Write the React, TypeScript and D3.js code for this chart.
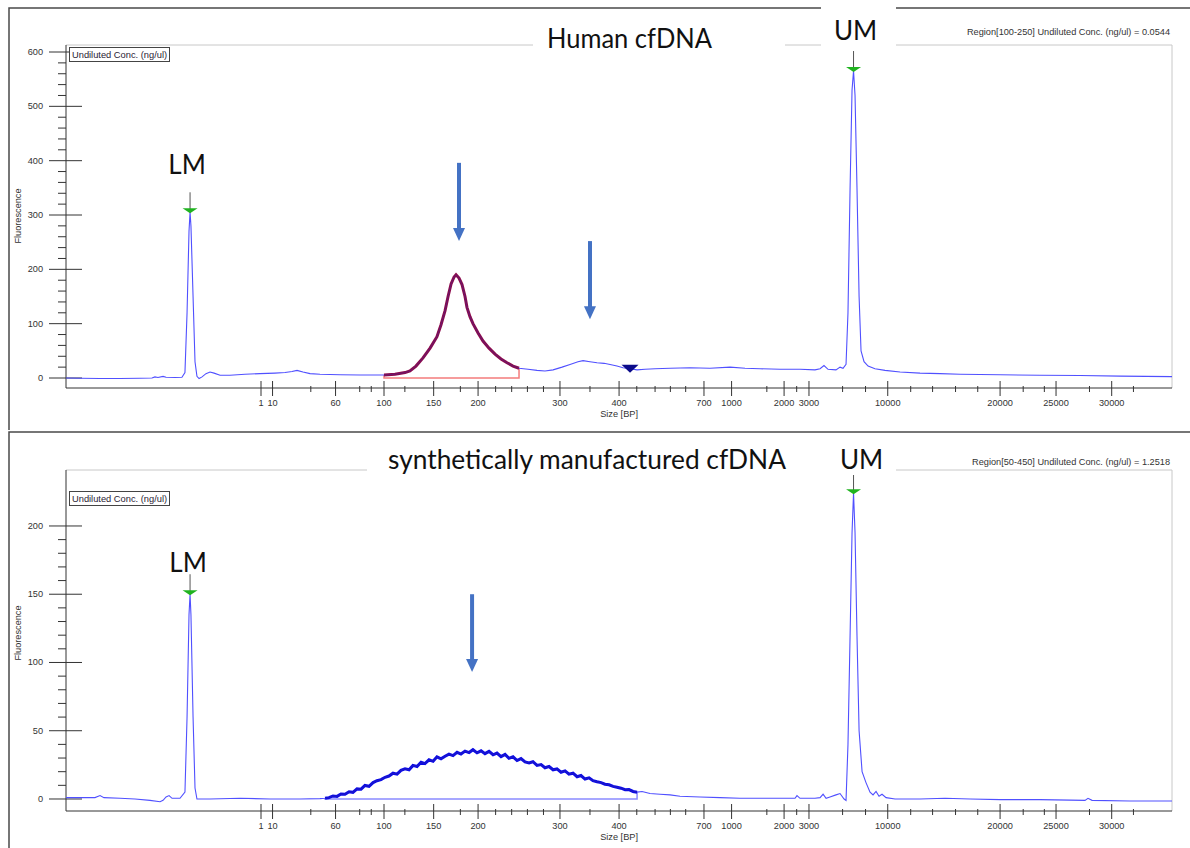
import { useRef, useEffect } from "react";
import * as d3 from "d3";

const W = 1190;
const H = 848;

// size axis: ladder labels and the migration time (s) where each sits
const sizeLabels = ["1", "10", "60", "100", "150", "200", "300", "400", "700", "1000", "2000", "3000", "10000", "20000", "25000", "30000"];
const sizeTimes = [53.0, 53.77, 57.97, 61.2, 64.51, 67.47, 72.93, 76.87, 82.53, 84.37, 87.87, 89.53, 94.78, 102.27, 106.0, 109.71];
const minorTimes = [56.32, 59.58, 60.35, 62.59, 66.29, 68.64, 69.71, 70.76, 71.83, 74.93, 78.05, 79.27, 80.29, 81.31, 86.72, 88.71, 91.77, 93.3, 96.31, 97.77, 99.3, 100.78, 103.81, 105.22, 108.23, 111.16];
const timeDomain = [40, 113.73];

// top run: human cfDNA  [time (s), fluorescence]
const humanTrace: [number, number][] = [
  [40.0, 0], [40.93, -0.5], [42.27, -1], [43.6, -1], [44.93, -0.5], [45.73, 0], [45.93, 2], [46.13, 1], [46.47, 3], [46.67, 1.5],
  [47.27, 1], [47.73, 1.5], [47.93, 10], [48.07, 120], [48.2, 270], [48.27, 305], [48.33, 280], [48.47, 150], [48.6, 30], [48.73, 3],
  [48.87, -1], [49.07, 2], [49.33, 8], [49.6, 11], [49.87, 9], [50.27, 5], [50.93, 5], [51.93, 7], [52.93, 8], [53.93, 9],
  [54.6, 10], [55.07, 12], [55.4, 14], [55.8, 11], [56.27, 8], [56.93, 7], [58.27, 6], [59.6, 5.5], [61.2, 5.5], [61.93, 7],
  [62.6, 10], [62.93, 13], [63.33, 22], [63.8, 37], [64.27, 55], [64.73, 76], [65.0, 98], [65.27, 124], [65.47, 150], [65.67, 173],
  [65.87, 186], [66.0, 190], [66.2, 184], [66.4, 172], [66.6, 150], [66.73, 130], [66.93, 113], [67.13, 100], [67.47, 83], [67.8, 68],
  [68.2, 55], [68.6, 44], [69.0, 35], [69.4, 28], [69.8, 22], [70.2, 18], [70.8, 16], [71.4, 14], [71.93, 13], [72.47, 15],
  [73.07, 20], [73.6, 25], [74.13, 30], [74.47, 32], [74.93, 30], [75.4, 28], [75.87, 27], [76.27, 25], [76.73, 22], [77.13, 19],
  [77.6, 17], [78.07, 15], [78.6, 16], [79.27, 17], [80.27, 18], [81.6, 19], [82.93, 18], [84.27, 20], [85.27, 18], [86.27, 17],
  [87.6, 16], [88.93, 16], [89.93, 15], [90.27, 17], [90.53, 23], [90.8, 16], [91.33, 15], [91.6, 20], [91.8, 18], [92.0, 25],
  [92.13, 120], [92.27, 350], [92.4, 530], [92.5, 565], [92.6, 520], [92.73, 350], [92.87, 150], [93.0, 50], [93.2, 30], [93.47, 22],
  [93.93, 17], [94.6, 14], [95.6, 11], [96.93, 9], [98.27, 8], [99.6, 7], [102.27, 6], [104.93, 5], [107.6, 4.5], [110.27, 3.5],
  [113.73, 2.5],
];
const humanRegion = [61.2, 70.2];
const humanLadder = [
  { label: "LM", t: 48.27, v: 305, labelV: 375, dx: -3 },
  { label: "UM", t: 92.5, v: 565, labelV: 622, dx: 2 },
];
const humanDip = [{ t: 77.6, v: 17 }];
const humanArrows = [
  { t: 66.2, from: 396, to: 252 },
  { t: 74.93, from: 252, to: 108 },
];

// bottom run: synthetic cfDNA
const synthBefore: [number, number][] = [
  [40.0, 1], [40.93, 1], [41.93, 1], [42.27, 2.5], [42.53, 1], [43.6, 0.5], [44.6, 0], [45.6, -1], [46.27, -2], [46.47, -1],
  [46.67, 1.5], [46.87, 2.5], [47.07, 0.5], [47.6, 0.5], [47.93, 5], [48.07, 60], [48.2, 135], [48.27, 150], [48.33, 135], [48.47, 60],
  [48.6, 8], [48.73, 0], [49.6, 0], [51.6, 0.5], [53.6, 0], [55.6, 0], [56.93, 0.3],
];
const synthSmearTimes = [
  57.27, 57.53, 57.8, 58.07, 58.33, 58.6, 58.87, 59.13, 59.4, 59.67, 59.93, 60.2, 60.47, 60.73, 61.0, 61.27, 61.53, 61.8, 62.07, 62.33,
  62.6, 62.87, 63.13, 63.4, 63.67, 63.93, 64.2, 64.47, 64.73, 65.0, 65.27, 65.53, 65.8, 66.07, 66.33, 66.6, 66.87, 67.13, 67.4, 67.67,
  67.93, 68.2, 68.47, 68.73, 69.0, 69.27, 69.53, 69.8, 70.07, 70.33, 70.6, 70.87, 71.13, 71.4, 71.67, 71.93, 72.2, 72.47, 72.73, 73.0,
  73.27, 73.53, 73.8, 74.07, 74.33, 74.6, 74.87, 75.13, 75.4, 75.67, 75.93, 76.2, 76.47, 76.73, 77.0, 77.27, 77.53, 77.8, 78.07,
];
const synthSmearValues = [
  0.5, 1.0, 2.2, 1.9, 3.6, 3.5, 5.3, 4.9, 7.4, 7.2, 9.9, 9.3, 12.0, 13.4, 14.2, 15.9, 16.8, 18.9, 18.2, 21.0,
  22.1, 21.4, 24.6, 23.8, 26.9, 25.9, 28.7, 27.6, 30.9, 29.4, 31.3, 32.9, 31.8, 34.2, 32.9, 35.1, 34.0, 36.1, 33.8, 35.3,
  33.2, 34.9, 32.4, 33.6, 31.0, 32.7, 29.8, 30.9, 28.2, 29.6, 27.1, 26.4, 27.3, 24.6, 25.2, 22.9, 23.8, 21.4, 22.0, 19.6,
  20.6, 18.2, 18.9, 16.3, 17.2, 14.6, 15.5, 13.4, 12.6, 12.0, 10.8, 10.4, 9.2, 8.6, 7.9, 6.8, 6.9, 5.5, 5.0,
];
const synthAfter: [number, number][] = [
  [78.4, 5.5], [78.93, 4], [79.6, 3.5], [80.27, 3], [80.93, 2], [82.27, 1.5], [83.6, 1], [84.93, 0.5], [86.27, 0.5], [87.6, 0.5],
  [88.6, 0.5], [88.73, 2.5], [88.93, 0.5], [89.93, 0.5], [90.27, 1], [90.47, 3.5], [90.67, 0.5], [90.93, 1.5], [91.33, 3], [91.6, 4],
  [91.87, 0], [92.0, -1], [92.13, 40], [92.27, 120], [92.4, 195], [92.5, 224], [92.6, 195], [92.73, 120], [92.87, 50], [93.07, 20],
  [93.33, 12], [93.6, 5], [93.8, 3], [94.0, 5.5], [94.2, 2], [94.4, 3.5], [94.67, 1], [95.27, 0], [96.93, 0], [98.6, 0.5],
  [100.27, 0], [102.27, -0.5], [104.93, -0.5], [107.93, -1], [108.13, 0.5], [108.4, -1], [110.93, -1.5], [113.73, -1.5],
];
const synthTrace: [number, number][] = [
  ...synthBefore,
  ...(d3.zip(synthSmearTimes, synthSmearValues) as [number, number][]),
  ...synthAfter,
];
const synthRegion = [57.27, 78.07];
const synthLadder = [
  { label: "LM", t: 48.27, v: 150, labelV: 166, dx: -2 },
  { label: "UM", t: 92.5, v: 224, labelV: 242, dx: 8 },
];
const synthArrows = [{ t: 67.07, from: 150, to: 93 }];

const panels = [
  {
    frameTop: 8, frameBottom: 430, plotTop: 45, axisY: 388, yDomain: [-18.4, 612.9],
    yMajor: d3.range(0, 601, 100), yMinor: d3.range(0, 601, 20),
    trace: humanTrace, region: humanRegion, ladder: humanLadder, dips: humanDip, arrows: humanArrows,
    regionStroke: "#8c0a4b", regionBox: "#f47c7c",
    regionText: "Region[100-250] Undiluted Conc. (ng/ul) = 0.0544", regionTextY: 35,
    concBoxY: 47, fluorY: 216,
    covers: [[533, 12, 252, 37], [821, 0, 75, 49]],
    titles: [{ text: "Human cfDNA", x: 547, y: 48, len: 165 }],
  },
  {
    frameTop: 432, frameBottom: 848, plotTop: 470, axisY: 811, yDomain: [-8.8, 241],
    yMajor: d3.range(0, 201, 50), yMinor: d3.range(0, 201, 10),
    trace: synthTrace, region: synthRegion, ladder: synthLadder, dips: [], arrows: synthArrows,
    regionStroke: "#0a0ae6", regionBox: "#8a8aff",
    regionText: "Region[50-450] Undiluted Conc. (ng/ul) = 1.2518", regionTextY: 465,
    concBoxY: 491, fluorY: 633,
    covers: [[367, 438, 529, 37]],
    titles: [{ text: "synthetically manufactured cfDNA", x: 388, y: 469, len: 398 }],
  },
];

const SANS = "'Liberation Sans', Arial, sans-serif";
const TITLE = "Lato, 'Open Sans', sans-serif";
const TRACE = "#5050ff";
const ARROW = "#4472c4";

function drawPanel(svg, p) {
  const left = 66;
  const right = 1172;
  const x = d3.scaleLinear().domain(timeDomain).range([left, right]);
  const y = d3.scaleLinear().domain(p.yDomain).range([p.axisY, p.plotTop]);
  const g = svg.append("g");

  // outer frame
  g.append("path")
    .attr("d", `M9,${p.frameBottom}V${p.frameTop}H${W}`)
    .attr("fill", "none")
    .attr("stroke", "#4a4a4a")
    .attr("stroke-width", 1.5);

  // plot box
  g.append("path")
    .attr("d", `M${left},${p.plotTop}H${right}V${p.axisY}`)
    .attr("fill", "none")
    .attr("stroke", "#c8c8c8");

  // y axis
  g.append("line")
    .attr("x1", left).attr("x2", left)
    .attr("y1", p.plotTop).attr("y2", p.axisY)
    .attr("stroke", "#333");
  g.selectAll(".ymin")
    .data(p.yMinor.filter((v) => !p.yMajor.includes(v)))
    .join("line")
    .attr("x1", 58).attr("x2", left)
    .attr("y1", (d) => y(d)).attr("y2", (d) => y(d))
    .attr("stroke", "#333");
  g.selectAll(".ymaj")
    .data(p.yMajor)
    .join("line")
    .attr("x1", 49).attr("x2", 82)
    .attr("y1", (d) => y(d)).attr("y2", (d) => y(d))
    .attr("stroke", "#333");
  g.selectAll(".ylab")
    .data(p.yMajor)
    .join("text")
    .attr("x", 43)
    .attr("y", (d) => y(d) + 3)
    .attr("text-anchor", "end")
    .attr("font-family", SANS)
    .attr("font-size", 9.2)
    .attr("fill", "#333")
    .text((d) => d);
  g.append("text")
    .attr("transform", `translate(21,${p.fluorY}) rotate(-90)`)
    .attr("text-anchor", "middle")
    .attr("font-family", SANS)
    .attr("font-size", 9.2)
    .attr("fill", "#333")
    .text("Fluorescence");

  // x axis
  g.append("line")
    .attr("x1", left).attr("x2", right)
    .attr("y1", p.axisY).attr("y2", p.axisY)
    .attr("stroke", "#333");
  g.selectAll(".xmin")
    .data(minorTimes)
    .join("line")
    .attr("x1", (d) => x(d)).attr("x2", (d) => x(d))
    .attr("y1", p.axisY - 2).attr("y2", p.axisY + 4)
    .attr("stroke", "#333");
  g.selectAll(".xmaj")
    .data(sizeTimes)
    .join("line")
    .attr("x1", (d) => x(d)).attr("x2", (d) => x(d))
    .attr("y1", p.axisY - 7).attr("y2", p.axisY + 8)
    .attr("stroke", "#333");
  g.selectAll(".xlab")
    .data(sizeLabels)
    .join("text")
    .attr("x", (_, i) => x(sizeTimes[i]))
    .attr("y", p.axisY + 18)
    .attr("text-anchor", "middle")
    .attr("font-family", SANS)
    .attr("font-size", 9.2)
    .attr("fill", "#333")
    .text((d) => d);
  g.append("text")
    .attr("x", x(sizeTimes[7]))
    .attr("y", p.axisY + 29)
    .attr("text-anchor", "middle")
    .attr("font-family", SANS)
    .attr("font-size", 9.2)
    .attr("fill", "#333")
    .text("Size [BP]");

  const line = d3.line<[number, number]>().x((d) => x(d[0])).y((d) => y(d[1]));

  // region baseline box
  const inRegion = p.trace.filter((d) => d[0] >= p.region[0] - 0.001 && d[0] <= p.region[1] + 0.001);
  const first = inRegion[0];
  const last = inRegion[inRegion.length - 1];
  g.append("path")
    .attr("d", `M${x(first[0])},${y(first[1])}V${y(0)}H${x(last[0])}V${y(last[1])}`)
    .attr("fill", "none")
    .attr("stroke", p.regionBox)
    .attr("stroke-width", 1.5);

  // trace
  g.append("path")
    .datum(p.trace)
    .attr("d", line)
    .attr("fill", "none")
    .attr("stroke", TRACE)
    .attr("stroke-width", 1.1);

  // highlighted region
  g.append("path")
    .datum(inRegion)
    .attr("d", line)
    .attr("fill", "none")
    .attr("stroke", p.regionStroke)
    .attr("stroke-width", 3);
  g.append("path")
    .datum(inRegion)
    .attr("d", line)
    .attr("fill", "none")
    .attr("stroke", "#3a2a9a")
    .attr("stroke-opacity", 0.6)
    .attr("stroke-width", 0.8);

  // ladder markers
  p.ladder.forEach((m) => {
    const px = x(m.t);
    const py = y(m.v);
    g.append("line")
      .attr("x1", px).attr("x2", px)
      .attr("y1", py - 20).attr("y2", py - 2)
      .attr("stroke", "#555");
    g.append("path")
      .attr("d", `M${px - 7.5},${py - 4}H${px + 7.5}L${px},${py + 1}Z`)
      .attr("fill", "#1fb31f");
  });

  // dip marker
  p.dips.forEach((m) => {
    const px = x(m.t);
    const py = y(m.v);
    g.append("path")
      .attr("d", `M${px - 8.5},${py - 4}H${px + 8.5}L${px},${py + 4}Z`)
      .attr("fill", "#0a0a8a");
  });

  // arrows
  p.arrows.forEach((a) => {
    const px = x(a.t);
    const y0 = y(a.from);
    const y1 = y(a.to);
    g.append("line")
      .attr("x1", px).attr("x2", px)
      .attr("y1", y0).attr("y2", y1 - 12)
      .attr("stroke", ARROW)
      .attr("stroke-width", 4);
    g.append("path")
      .attr("d", `M${px - 6},${y1 - 13}H${px + 6}L${px},${y1}Z`)
      .attr("fill", ARROW);
  });

  // pasted title boxes
  p.covers.forEach((c) => {
    g.append("rect")
      .attr("x", c[0]).attr("y", c[1])
      .attr("width", c[2]).attr("height", c[3])
      .attr("fill", "#fff");
  });
  p.titles.forEach((t) => {
    g.append("text")
      .attr("x", t.x)
      .attr("y", t.y)
      .attr("textLength", t.len)
      .attr("lengthAdjust", "spacingAndGlyphs")
      .attr("font-family", TITLE)
      .attr("font-size", 26)
      .attr("fill", "#111")
      .text(t.text);
  });
  p.ladder.forEach((m) => {
    g.append("text")
      .attr("x", x(m.t) + m.dx)
      .attr("y", y(m.labelV))
      .attr("text-anchor", "middle")
      .attr("font-family", TITLE)
      .attr("font-size", 26)
      .attr("fill", "#111")
      .text(m.label);
  });

  // concentration legend box
  g.append("rect")
    .attr("x", 69.5).attr("y", p.concBoxY + 0.5)
    .attr("width", 100).attr("height", 14)
    .attr("fill", "#fff")
    .attr("stroke", "#444");
  g.append("text")
    .attr("x", 72)
    .attr("y", p.concBoxY + 11)
    .attr("font-family", SANS)
    .attr("font-size", 9.3)
    .attr("fill", "#2a2233")
    .text("Undiluted Conc. (ng/ul)");

  g.append("text")
    .attr("x", 1170)
    .attr("y", p.regionTextY)
    .attr("text-anchor", "end")
    .attr("font-family", SANS)
    .attr("font-size", 9.2)
    .attr("fill", "#333")
    .text(p.regionText);
}

export default function App() {
  const svgRef = useRef<SVGSVGElement>(null);

  useEffect(() => {
    const svg = d3.select(svgRef.current);
    svg.selectAll("*").remove();
    svg.append("rect").attr("width", W).attr("height", H).attr("fill", "#fff");
    panels.forEach((p) => drawPanel(svg, p));
  }, []);

  return (
    <svg
      ref={svgRef}
      width={W}
      height={H}
      style={{ position: "absolute", left: 0, top: 0, display: "block" }}
    />
  );
}
